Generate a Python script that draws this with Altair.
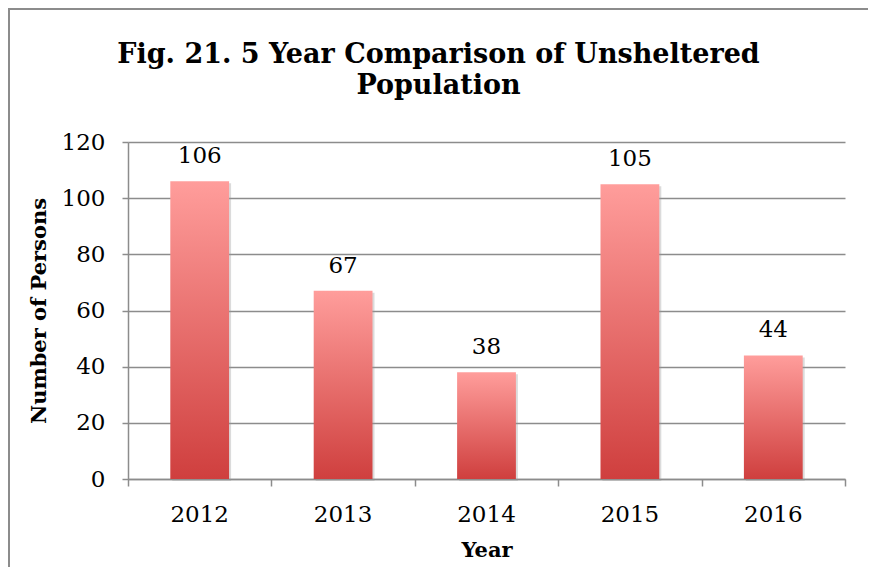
import altair as alt
import pandas as pd

years = ["2012", "2013", "2014", "2015", "2016"]
persons = [106, 67, 38, 105, 44]
y_ticks = [0, 20, 40, 60, 80, 100, 120]
boundaries = [0, 1, 2, 3, 4, 5]

df = pd.DataFrame({"Year": years, "Persons": persons})
bdf = pd.DataFrame({"b": boundaries})
frame_df = pd.DataFrame({"k": [0]})

FONT = "DejaVu Serif"
GRAY = "#8c8c8c"

x_enc = alt.X("Year:N", sort=years,
              scale=alt.Scale(paddingInner=0.59, paddingOuter=0.295),
              axis=alt.Axis(title="Year", ticks=False, domain=False, labelAngle=0,
                            labelFont=FONT, labelFontSize=23, labelColor="black",
                            labelPadding=24, titleFont=FONT, titleFontSize=21,
                            titleFontWeight="bold", titleColor="black", titlePadding=13))
y_enc = alt.Y("Persons:Q", scale=alt.Scale(domain=[0, 120], nice=False),
              axis=alt.Axis(title="Number of Persons", values=y_ticks, grid=True,
                            gridColor=GRAY, gridWidth=1.5, domainColor=GRAY, domainWidth=1.5,
                            tickColor=GRAY, tickWidth=1.5, tickSize=6,
                            labelFont=FONT, labelFontSize=23, labelColor="black",
                            labelPadding=17, titleFont=FONT, titleFontSize=21,
                            titleFontWeight="bold", titleColor="black", titlePadding=12))

border = alt.Chart(frame_df).mark_rect(
    fill="white", fillOpacity=0, stroke=GRAY, strokeWidth=2
).encode(x=alt.value(-119), x2=alt.value(760), y=alt.value(-133), y2=alt.value(520))

shadow = alt.Chart(df).mark_bar(color="#999999", opacity=0.35, xOffset=2, yOffset=2).encode(
    x=x_enc, y=y_enc)

grad = alt.Gradient(gradient="linear",
                    stops=[alt.GradientStop(color="#ff9d9b", offset=0),
                           alt.GradientStop(color="#cf3f3e", offset=1)],
                    x1=0, x2=0, y1=0, y2=1)
bars = alt.Chart(df).mark_bar(color=grad).encode(x=x_enc, y=y_enc)

labels = alt.Chart(df).mark_text(font=FONT, fontSize=23, color="black",
                                 baseline="bottom", dy=-13).encode(
    x=alt.X("Year:N", sort=years), y=alt.Y("Persons:Q"), text="Persons:Q")

ticks = alt.Chart(bdf).mark_tick(opacity=0).encode(
    x=alt.X("b:Q", scale=alt.Scale(domain=[0, 5], nice=False),
            axis=alt.Axis(orient="bottom", values=boundaries, labels=False, grid=False,
                          title=None, tickSize=7, tickColor=GRAY, tickWidth=1.5,
                          domainColor=GRAY, domainWidth=1.5)))

main = alt.layer(shadow, bars, labels)

chart = alt.layer(border, main, ticks).resolve_scale(
    x="independent"
).properties(
    width=717, height=337,
    autosize=alt.AutoSizeParams(type="none"),
    padding={"left": 120, "top": 134, "right": 23, "bottom": 88},
    title=alt.TitleParams(
        text=["Fig. 21. 5 Year Comparison of Unsheltered", "Population"],
        font=FONT, fontSize=27, fontWeight="bold", color="black",
        anchor="middle", dx=-48, offset=-92, lineHeight=31),
    background="white",
).configure_view(stroke=None)

chart.save("out.html", embed_options={"renderer": "svg", "actions": False})
